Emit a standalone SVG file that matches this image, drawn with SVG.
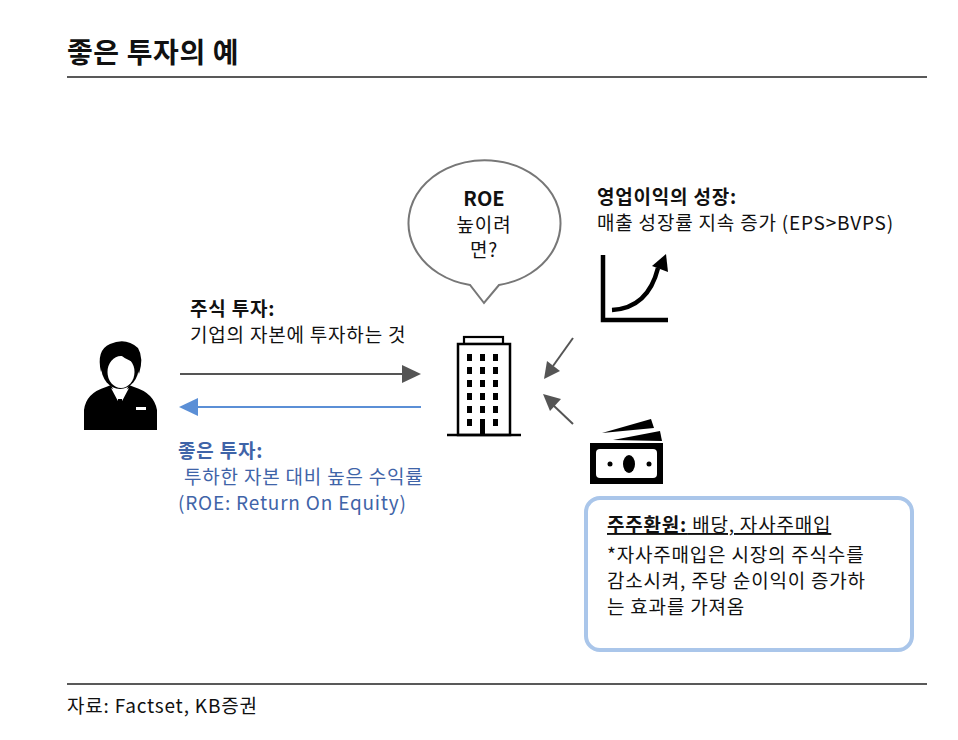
<svg xmlns="http://www.w3.org/2000/svg" width="958" height="740" viewBox="0 0 958 740">
<style>
text{font-family:"Noto Sans CJK KR","Noto Sans",sans-serif;font-size:19px;letter-spacing:0.8px;fill:#111}
.b{font-weight:bold}
.blue{fill:#3f64a8}
.ic{fill:#000}
</style>
<rect width="958" height="740" fill="#fff"/>
<g id="title">
<text x="67" y="63" class="b" style="font-size:28px;letter-spacing:0.6px">좋은 투자의 예</text>
<line x1="67" y1="77" x2="927" y2="77" stroke="#222" stroke-width="1.3"/>
</g>
<g id="connectors">
<line x1="180" y1="374" x2="402" y2="374" stroke="#555" stroke-width="2"/>
<path d="M402,365L421,374L402,383z" fill="#555"/>
<line x1="421" y1="407" x2="198" y2="407" stroke="#5b8fd6" stroke-width="2"/>
<path d="M198,398L179,407L198,416z" fill="#5b8fd6"/>
<line x1="573" y1="338" x2="553" y2="366" stroke="#555" stroke-width="2"/>
<path d="M544,379L547,361L560,371z" fill="#555"/>
<line x1="573" y1="424" x2="553" y2="405" stroke="#555" stroke-width="2"/>
<path d="M543,394L561,399L550,411z" fill="#555"/>
</g>
<g id="person">
<path class="ic" d="M84,430L84,410Q86,393 106,387L111,385L120,404L129,385L134,387Q154,393 157,410L157,430z"/>
<path fill="#fff" d="M111,388L120,405L129,388L124,391L120,396L116,391z"/>
<path class="ic" d="M118,399L122,399L124,421L120,429L116,421z"/>
<rect x="136" y="407" width="10" height="3" fill="#fff"/>
<ellipse cx="120" cy="366" rx="19" ry="23" fill="#000"/>
<ellipse cx="121" cy="372" rx="13.5" ry="16" fill="#fff"/>
<path class="ic" d="M101,372Q96,350 110,344Q126,337 138,348Q144,358 139,374L135,362Q124,360 117,351Q112,361 104,363z"/>
</g>
<g id="bubble">
<path d="M470,285A76,63 0 1 1 499,285L484,303z" fill="#fff" stroke="#777" stroke-width="2"/>
<text x="484" y="206" text-anchor="middle" class="b" style="font-size:20px;letter-spacing:0">ROE</text>
<text x="484" y="232" text-anchor="middle">높이려</text>
<text x="484" y="257" text-anchor="middle">면?</text>
</g>
<g id="building">
<rect x="464" y="337" width="39" height="7" fill="#fff" stroke="#000" stroke-width="2.2"/>
<rect x="458" y="344" width="52" height="91" fill="#fff" stroke="#000" stroke-width="2.5"/>
<line x1="447" y1="435" x2="521" y2="435" stroke="#000" stroke-width="2.5"/>
<g class="ic">
<rect x="467" y="354" width="5" height="7"/><rect x="480" y="354" width="5" height="7"/><rect x="493" y="354" width="5" height="7"/>
<rect x="467" y="367" width="5" height="7"/><rect x="480" y="367" width="5" height="7"/><rect x="493" y="367" width="5" height="7"/>
<rect x="467" y="380" width="5" height="7"/><rect x="480" y="380" width="5" height="7"/><rect x="493" y="380" width="5" height="7"/>
<rect x="467" y="393" width="5" height="7"/><rect x="480" y="393" width="5" height="7"/><rect x="493" y="393" width="5" height="7"/>
<rect x="467" y="406" width="5" height="7"/><rect x="480" y="406" width="5" height="7"/><rect x="493" y="406" width="5" height="7"/>
<rect x="467" y="419" width="5" height="7"/><rect x="480" y="419" width="5" height="16"/><rect x="493" y="419" width="5" height="7"/>
</g>
</g>
<g id="stock">
<text x="190" y="316" class="b">주식 투자:</text>
<text x="190" y="342">기업의 자본에 투자하는 것</text>
</g>
<g id="good">
<text x="178" y="458" class="b blue">좋은 투자:</text>
<text x="184" y="484" class="blue">투하한 자본 대비 높은 수익률</text>
<text x="178" y="510" class="blue">(ROE: Return On Equity)</text>
</g>
<g id="growth">
<text x="597" y="204" class="b">영업이익의 성장:</text>
<text x="597" y="230">매출 성장률 지속 증가 (EPS&gt;BVPS)</text>
<path d="M603,255L603,320L668,320" fill="none" stroke="#000" stroke-width="4.5"/>
<path d="M612,310Q648,308 658,268" fill="none" stroke="#000" stroke-width="4.5"/>
<path d="M666,254L668,272L652,266z" fill="#000"/>
</g>
<g id="money">
<path class="ic" d="M602,433L651,419L654,428z"/>
<path class="ic" d="M613,440L660,431L662,441z"/>
<rect x="590" y="443" width="73" height="41" fill="#000"/>
<rect x="596" y="449" width="61" height="29" rx="4" fill="#fff"/>
<ellipse cx="629" cy="464" rx="6" ry="9" fill="#000"/>
<circle cx="610" cy="464" r="2.5" fill="#000"/>
<circle cx="649" cy="464" r="2.5" fill="#000"/>
</g>
<g id="payout">
<rect x="586" y="498" width="326" height="152" rx="14" fill="#fff" stroke="#aac6ea" stroke-width="4"/>
<text x="607" y="532" text-decoration="underline"><tspan class="b">주주환원:</tspan> 배당, 자사주매입</text>
<text x="607" y="562">*자사주매입은 시장의 주식수를</text>
<text x="607" y="588">감소시켜, 주당 순이익이 증가하</text>
<text x="607" y="614">는 효과를 가져옴</text>
</g>
<g id="source">
<line x1="67" y1="684" x2="927" y2="684" stroke="#222" stroke-width="1.3"/>
<text x="67" y="713">자료: Factset, KB증권</text>
</g>
</svg>
